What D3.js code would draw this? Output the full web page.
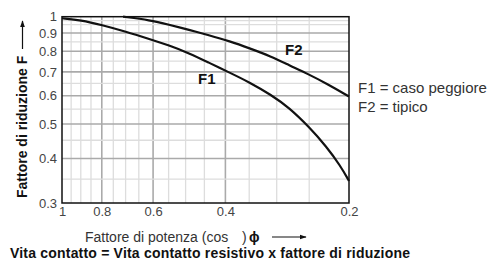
<!DOCTYPE html>
<html>
<head>
<meta charset="utf-8">
<script src="https://cdn.jsdelivr.net/npm/d3@7"></script>
<style>
  body { margin: 0; background: #fff; }
  svg { display: block; font-family: "Liberation Sans", Arial, sans-serif; }
</style>
</head>
<body>
<svg id="chart" width="494" height="261"></svg>
<script>
// power factor (cos phi) ticks and reduction factor ticks
const xTicks = [1, 0.8, 0.6, 0.4, 0.2]
const yTicks = [1, 0.9, 0.8, 0.7, 0.6, 0.5, 0.4, 0.3]
const xGrid = [0.95, 0.9, 0.85, 0.8, 0.75, 0.7, 0.65, 0.6, 0.55, 0.5, 0.45, 0.4, 0.35, 0.3, 0.25]
const xGridMajor = [0.8, 0.6, 0.4]
const yGrid = [0.975, 0.95, 0.9, 0.85, 0.8, 0.75, 0.7, 0.65, 0.6, 0.55, 0.5, 0.45, 0.4, 0.35]
const yGridMajor = [0.9, 0.8, 0.7, 0.6, 0.5, 0.4]

// F1 = worst case
const f1Cos = [1, 0.9, 0.8, 0.7, 0.61, 0.55, 0.49, 0.44, 0.39, 0.35, 0.31, 0.28, 0.25, 0.227, 0.21, 0.2]
const f1Val = [0.99, 0.978, 0.948, 0.908, 0.864, 0.832, 0.79, 0.744, 0.696, 0.655, 0.604, 0.556, 0.49, 0.432, 0.382, 0.346]
// F2 = typical
const f2Cos = [0.71, 0.61, 0.55, 0.49, 0.44, 0.39, 0.35, 0.31, 0.28, 0.25, 0.225, 0.2]
const f2Val = [1.0, 0.978, 0.95, 0.918, 0.888, 0.853, 0.816, 0.774, 0.731, 0.688, 0.646, 0.597]

const legendLines = ['F1 = caso peggiore', 'F2 = tipico']

const svg = d3.select('#chart')
const plotLeft = 62, plotRight = 349, plotTop = 16.7, plotBottom = 203

const x = d3.scaleLog().domain([1, 0.2]).range([plotLeft, plotRight])
const y = d3.scaleLog().domain([0.3, 1]).range([plotBottom, plotTop])

const defs = svg.append('defs')
defs.append('marker')
  .attr('id', 'arrow')
  .attr('viewBox', '0 0 10 10')
  .attr('refX', 9).attr('refY', 5)
  .attr('markerWidth', 7).attr('markerHeight', 7)
  .attr('markerUnits', 'userSpaceOnUse')
  .attr('orient', 'auto')
  .append('path').attr('d', 'M0,1.5 L10,5 L0,8.5 Z').attr('fill', '#111')

// grid
const grid = svg.append('g')
grid.selectAll('.vx')
  .data(xGrid)
  .join('line')
  .attr('x1', d => x(d)).attr('x2', d => x(d))
  .attr('y1', plotTop).attr('y2', plotBottom)
  .attr('stroke', d => xGridMajor.includes(d) ? '#aaa' : '#ddd')
  .attr('stroke-width', d => xGridMajor.includes(d) ? 1.6 : 1.3)
grid.selectAll('.hy')
  .data(yGrid)
  .join('line')
  .attr('y1', d => y(d)).attr('y2', d => y(d))
  .attr('x1', plotLeft).attr('x2', plotRight)
  .attr('stroke', d => yGridMajor.includes(d) ? '#aaa' : '#ddd')
  .attr('stroke-width', d => yGridMajor.includes(d) ? 1.6 : 1.3)

// frame
svg.append('rect')
  .attr('x', plotLeft).attr('y', plotTop)
  .attr('width', plotRight - plotLeft).attr('height', plotBottom - plotTop)
  .attr('fill', 'none').attr('stroke', '#111').attr('stroke-width', 1.5)

// curves
const curve = d3.line().x(d => x(d[0])).y(d => y(d[1])).curve(d3.curveBasis)

svg.append('path')
  .datum(d3.zip(f1Cos, f1Val))
  .attr('d', curve)
  .attr('fill', 'none').attr('stroke', '#111').attr('stroke-width', 2.2)
svg.append('path')
  .datum(d3.zip(f2Cos, f2Val))
  .attr('d', curve)
  .attr('fill', 'none').attr('stroke', '#111').attr('stroke-width', 2.2)

// axes (labels only)
const fmt = d => d === 1 ? '1' : d3.format('.1f')(d)
const yAxis = d3.axisLeft(y).tickValues(yTicks).tickSize(0).tickPadding(5).tickFormat(fmt)
const yG = svg.append('g').attr('transform', `translate(${plotLeft},0)`).call(yAxis)
const xAxis = d3.axisBottom(x).tickValues(xTicks).tickSize(0).tickPadding(4).tickFormat(fmt)
const xG = svg.append('g').attr('transform', `translate(0,${plotBottom})`).call(xAxis)
;[yG, xG].forEach(g => {
  g.select('.domain').remove()
  g.selectAll('text').attr('fill', '#444').style('font-size', '13px').style('font-family', '"Liberation Sans", Arial, sans-serif')
})

// curve labels
svg.append('text').attr('x', 198).attr('y', 84).text('F1')
  .attr('font-weight', 'bold').attr('font-size', 15).attr('fill', '#111')
svg.append('text').attr('x', 285).attr('y', 55).text('F2')
  .attr('font-weight', 'bold').attr('font-size', 15).attr('fill', '#111')

// legend
svg.selectAll('.legend')
  .data(legendLines)
  .join('text')
  .attr('x', 358)
  .attr('y', (d, i) => 93 + i * 19)
  .attr('font-size', 15)
  .attr('fill', '#333')
  .text(d => d)

// y title with arrow
svg.append('text')
  .attr('transform', 'translate(27,198) rotate(-90)')
  .attr('font-weight', 'bold').attr('font-size', 14).attr('fill', '#111')
  .text('Fattore di riduzione F')
svg.append('line')
  .attr('x1', 22.5).attr('x2', 22.5).attr('y1', 49).attr('y2', 21)
  .attr('stroke', '#111').attr('stroke-width', 1.2).attr('marker-end', 'url(#arrow)')

// x title with arrow
svg.append('text').attr('x', 85).attr('y', 242)
  .attr('font-size', 14).attr('fill', '#333')
  .text('Fattore di potenza (cos')
svg.append('text').attr('x', 242).attr('y', 242)
  .attr('font-size', 14).attr('fill', '#333')
  .text(')')
svg.append('text').attr('x', 249).attr('y', 242)
  .attr('font-size', 14).attr('font-weight', 'bold').attr('fill', '#111')
  .text('ϕ')
svg.append('line')
  .attr('x1', 272).attr('x2', 306).attr('y1', 237).attr('y2', 237)
  .attr('stroke', '#111').attr('stroke-width', 1.2).attr('marker-end', 'url(#arrow)')

// caption
svg.append('text').attr('x', 10).attr('y', 258)
  .attr('font-weight', 'bold').attr('font-size', 14).attr('fill', '#111')
  .attr('textLength', 400).attr('lengthAdjust', 'spacing')
  .text('Vita contatto = Vita contatto resistivo x fattore di riduzione')
</script>
</body>
</html>
